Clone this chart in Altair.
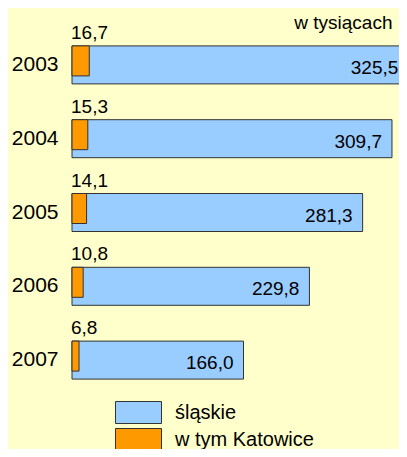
import altair as alt
import pandas as pd

years = ["2003", "2004", "2005", "2006", "2007"]
slaskie = [325.5, 309.7, 281.3, 229.8, 166.0]
katowice = [16.7, 15.3, 14.1, 10.8, 6.8]
series_names = ["śląskie", "w tym Katowice"]
series_colors = ["#99CCFF", "#FF9900"]
unit_note = "w tysiącach"

FONT = "Liberation Sans"
STROKE = "#333333"


def fmt(v):
    return f"{v:.1f}".replace(".", ",")


rows = []
for yr, s, k in zip(years, slaskie, katowice):
    rows.append({"year": yr, "series": series_names[0], "value": s, "label": fmt(s)})
    rows.append({"year": yr, "series": series_names[1], "value": k, "label": fmt(k)})
df = pd.DataFrame(rows)

xscale = alt.Scale(domain=[0, 316.5], nice=False, zero=True)
yscale = alt.Scale(domain=years, paddingInner=0, paddingOuter=0)

xenc = alt.X(
    "value:Q",
    scale=xscale,
    axis=alt.Axis(
        orient="top",
        labels=False,
        ticks=False,
        domain=False,
        grid=False,
        title=unit_note,
        titleFont=FONT,
        titleFontSize=19,
        titleFontWeight="normal",
        titleColor="black",
        titleAnchor="end",
        titleAlign="right",
        titleBaseline="alphabetic",
        titleX=320,
        titleY=0,
    ),
)

color = alt.Color(
    "series:N",
    scale=alt.Scale(domain=series_names, range=series_colors),
    legend=alt.Legend(
        title=None,
        orient="none",
        legendX=55,
        legendY=373,
        symbolType="M-2.091,-1H2.091V1H-2.091Z",
        symbolSize=484,
        symbolStrokeColor=STROKE,
        symbolStrokeWidth=1,
        symbolOpacity=1,
        labelFont=FONT,
        labelFontSize=20,
        labelColor="black",
        labelOffset=25,
        rowPadding=0,
        padding=0,
    ),
)

yenc = alt.Y(
    "year:N",
    scale=yscale,
    title=None,
    axis=alt.Axis(
        domain=False,
        ticks=False,
        grid=False,
        labelFont=FONT,
        labelFontSize=21,
        labelColor="black",
        labelPadding=14,
    ),
)

base = alt.Chart(df)
blue_data = base.transform_filter(alt.datum.series == series_names[0])
orange_data = base.transform_filter(alt.datum.series == series_names[1])

blue = blue_data.mark_bar(height=38, stroke=STROKE, strokeWidth=1, opacity=1).encode(
    x=xenc, y=yenc, color=color
)
orange = orange_data.mark_bar(
    height=30, yOffset=-4, stroke=STROKE, strokeWidth=1, opacity=1
).encode(x=xenc, y=yenc, color=color)
blue_text = blue_data.mark_text(
    align="right", baseline="middle", dx=-10, dy=3, fontSize=19, font=FONT, color="black"
).encode(x=xenc, y=yenc, text="label:N")
orange_text = orange_data.mark_text(
    align="left", baseline="middle", dx=-1, dy=-32, fontSize=19, font=FONT, color="black"
).encode(x=alt.datum(0, scale=xscale), y=yenc, text="label:N")

chart = (
    alt.layer(blue, orange, blue_text, orange_text)
    .properties(
        width=327,
        height=369,
        padding={"left": 64, "top": 20, "right": 0, "bottom": 52},
        autosize=alt.AutoSizeParams(type="none"),
        background="#FFFFCC",
    )
    .configure_view(stroke=None)
)

chart.save("out.html", embed_options={"renderer": "svg", "actions": False})
